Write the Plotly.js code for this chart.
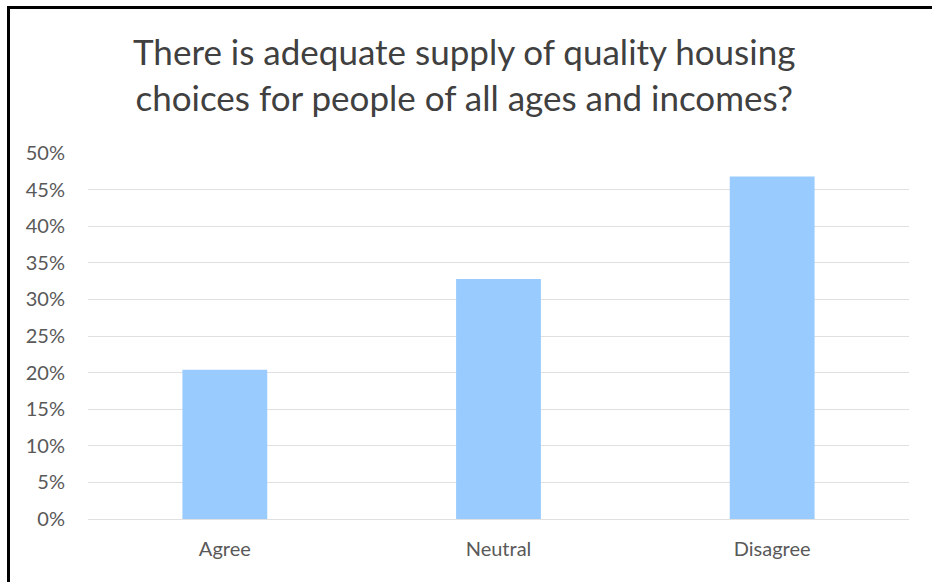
<!DOCTYPE html>
<html>
<head>
<meta charset="utf-8">
<script src="https://cdn.plot.ly/plotly-3.0.1.min.js"></script>
<style>
  html, body { margin: 0; padding: 0; background: #fff; overflow: hidden; }
  #chart { width: 932px; height: 582px; }
  #frame { position: absolute; left: 7px; top: 6px; width: 1000px; height: 1000px;
           border-left: 3px solid #000; border-top: 3px solid #000; pointer-events: none; }
</style>
</head>
<body>
<div id="chart"></div>
<div id="frame"></div>
<script>
const categories = ["Agree", "Neutral", "Disagree"];
const shares = [0.204, 0.328, 0.468];
const tickValues = [0, 0.05, 0.10, 0.15, 0.20, 0.25, 0.30, 0.35, 0.40, 0.45, 0.50];
const tickLabels = ["0%", "5%", "10%", "15%", "20%", "25%", "30%", "35%", "40%", "45%", "50%"];
const titleText = "There is adequate supply of quality housing<br>choices for people of all ages and incomes?";

const trace = {
  type: "bar",
  x: categories,
  y: shares,
  marker: { color: "#9ACBFF", line: { width: 0 } },
  hoverinfo: "none"
};

const layout = {
  width: 932,
  height: 582,
  margin: { l: 88, r: 23, t: 153, b: 63, pad: 0 },
  paper_bgcolor: "#ffffff",
  plot_bgcolor: "#ffffff",
  bargap: 0.69,
  showlegend: false,
  font: { family: "Lato, 'Open Sans', sans-serif", color: "#595959" },
  annotations: [{
    text: titleText,
    xref: "paper", yref: "paper",
    x: 0.458, y: 1.216,
    xanchor: "center", yanchor: "middle",
    showarrow: false,
    align: "center",
    font: { family: "Lato, 'Open Sans', sans-serif", size: 35, color: "#404040" }
  }],
  xaxis: {
    type: "category",
    showgrid: false,
    showline: false,
    zeroline: false,
    ticks: "",
    ticklabelstandoff: 16,
    tickfont: { size: 20, color: "#595959" }
  },
  yaxis: {
    range: [0, 0.5],
    tickvals: tickValues,
    ticktext: tickLabels,
    showgrid: true,
    gridcolor: "#e0e0e0",
    gridwidth: 1,
    zeroline: true,
    zerolinecolor: "#e0e0e0",
    zerolinewidth: 1,
    showline: false,
    ticks: "",
    ticklabelstandoff: 22,
    tickfont: { size: 20, color: "#595959" }
  }
};

Plotly.newPlot("chart", [trace], layout, { displayModeBar: false, staticPlot: true });
</script>
</body>
</html>
